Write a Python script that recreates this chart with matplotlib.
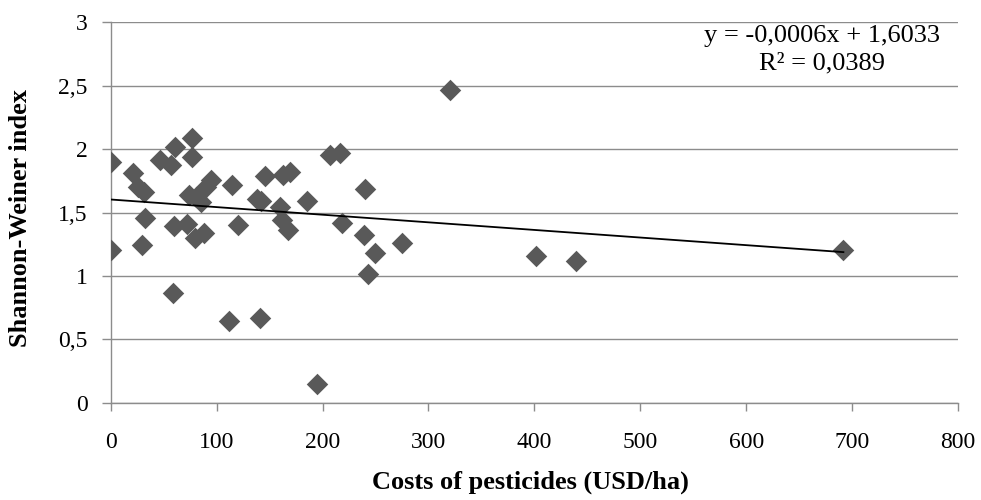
import matplotlib
matplotlib.use("Agg")
import matplotlib.pyplot as plt
import numpy as np

# Data
costs = [0, 0, 21, 26, 31, 32, 30, 47, 57, 61, 76.5, 76.5, 59, 60, 72, 80, 88,
         74, 81, 85, 90, 95, 115, 120.5, 112, 141, 138, 142, 146, 163, 169, 160,
         161.5, 167.5, 185.5, 195, 207, 216.5, 218, 240, 239, 249.5, 243.3,
         274.8, 320, 401.6, 439.4, 691.8]
shannon = [1.90, 1.205, 1.81, 1.70, 1.66, 1.46, 1.245, 1.915, 1.875, 2.015,
           2.086, 1.936, 0.863, 1.394, 1.41, 1.297, 1.337, 1.64, 1.625, 1.58,
           1.70, 1.76, 1.72, 1.40, 0.645, 0.665, 1.61, 1.59, 1.79, 1.80, 1.82,
           1.545, 1.44, 1.36, 1.594, 0.15, 1.954, 1.97, 1.42, 1.69, 1.323, 1.18,
           1.016, 1.263, 2.47, 1.16, 1.12, 1.205]
slope = -0.0006
intercept = 1.6033
r2_text = "0,0389"
x_ticks = [0, 100, 200, 300, 400, 500, 600, 700, 800]
y_ticks = [0, 0.5, 1, 1.5, 2, 2.5, 3]
y_tick_labels = ["0", "0,5", "1", "1,5", "2", "2,5", "3"]

plt.rcParams['font.family'] = ['Liberation Serif', 'DejaVu Serif']

fig = plt.figure(figsize=(9.81, 5.0), dpi=100)
ax = fig.add_axes([110.7/981, 1-402.8/500, (958-110.7)/981, (402.8-22.4)/500])

ax.set_xlim(0, 800)
ax.set_ylim(0, 3)
ax.set_yticks(y_ticks)
ax.set_yticklabels(y_tick_labels)
ax.set_xticks(x_ticks)
ax.yaxis.grid(True, color='#8c8c8c', linewidth=1.0)
ax.set_axisbelow(True)

for s in ['top', 'right']:
    ax.spines[s].set_visible(False)
for s in ['left', 'bottom']:
    ax.spines[s].set_color('#8c8c8c')
    ax.spines[s].set_linewidth(1.0)

ax.tick_params(axis='x', direction='out', length=6, width=1, color='#8c8c8c',
               labelsize=17, pad=15)
ax.tick_params(axis='y', direction='out', length=6.5, width=1, color='#8c8c8c',
               labelsize=17, pad=10)

ax.scatter(costs, shannon, marker='D', s=120, color='#595959', linewidths=0, zorder=3)

xl = np.array([min(costs), max(costs)])
ax.plot(xl, slope * xl + intercept, color='black', linewidth=1.3, zorder=4)

fig.text(822/981, 1-36/500, "y = -0,0006x + 1,6033", ha='center', va='center', fontsize=19)
fig.text(822/981, 1-63/500, "R² = " + r2_text, ha='center', va='center', fontsize=19)

fig.text(530/981, 1-482/500, "Costs of pesticides (USD/ha)", ha='center', va='center',
         fontsize=19, fontweight='bold')
fig.text(21/981, 1-218/500, "Shannon-Weiner index", ha='center', va='center',
         fontsize=19, fontweight='bold', rotation=90)

fig.savefig("out.png", dpi=100)
